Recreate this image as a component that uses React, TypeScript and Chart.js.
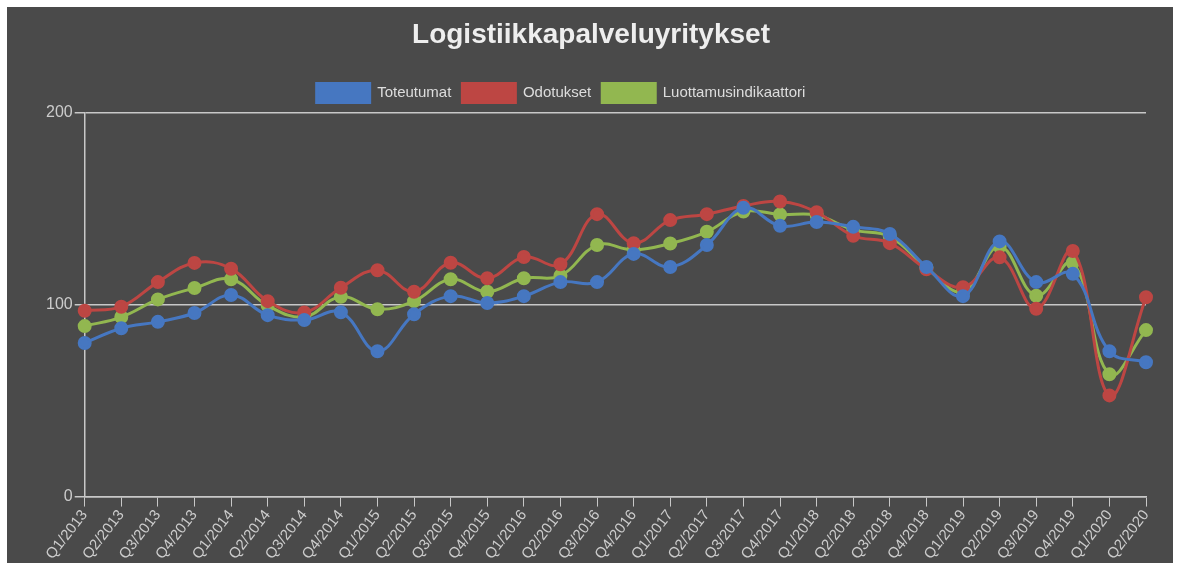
import React, { useEffect, useRef } from "react";
import { Chart, registerables } from "chart.js";

Chart.register(...registerables);

const categories = [
  "Q1/2013", "Q2/2013", "Q3/2013", "Q4/2013",
  "Q1/2014", "Q2/2014", "Q3/2014", "Q4/2014",
  "Q1/2015", "Q2/2015", "Q3/2015", "Q4/2015",
  "Q1/2016", "Q2/2016", "Q3/2016", "Q4/2016",
  "Q1/2017", "Q2/2017", "Q3/2017", "Q4/2017",
  "Q1/2018", "Q2/2018", "Q3/2018", "Q4/2018",
  "Q1/2019", "Q2/2019", "Q3/2019", "Q4/2019",
  "Q1/2020", "Q2/2020",
];

const toteutumat = [
  80, 87.7, 91, 95.6, 105, 94.5, 92, 96, 75.7, 95,
  104.4, 100.8, 104.4, 111.7, 111.7, 126.4, 119.6, 131, 150.4, 141,
  143, 140.5, 136.8, 119.6, 104.4, 132.9, 111.7, 116, 75.7, 70,
];

const odotukset = [
  96.8, 98.9, 111.7, 121.7, 118.7, 101.8, 95.9, 108.8, 117.9, 106.7,
  121.8, 113.7, 124.8, 121, 147.1, 132, 144, 147.1, 151.4, 153.7,
  148.1, 135.8, 132, 118.4, 109, 124.6, 97.8, 127.9, 52.7, 103.8,
];

const luottamus = [
  88.8, 93.5, 102.7, 108.6, 113.2, 99.5, 93.6, 104.1, 97.6, 101.8,
  113.2, 106.7, 113.7, 115, 131, 128.5, 131.8, 137.9, 148.5, 146.9,
  146.6, 138.9, 135.4, 119.2, 106.7, 130.2, 104.6, 121.8, 63.7, 86.7,
];

const yTicks = [0, 100, 200];

const seriesNames = ["Toteutumat", "Odotukset", "Luottamusindikaattori"];
const seriesColors = ["#4677c1", "#bd4643", "#92b750"];

const boxShift = {
  id: "boxShift",
  afterLayout(chart: any) {
    const lg = chart.legend;
    if (lg) {
      lg.left -= 34;
      lg.right -= 34;
    }
    const tt = chart.titleBlock;
    if (tt) {
      tt.left -= 4;
      tt.right -= 4;
    }
  },
};

export default function App() {
  const canvasRef = useRef<HTMLCanvasElement | null>(null);

  useEffect(() => {
    if (!canvasRef.current) return;
    const values = [toteutumat, odotukset, luottamus];
    const chart = new Chart(canvasRef.current, {
      type: "line",
      data: {
        labels: categories,
        datasets: values.map((v, i) => ({
          label: seriesNames[i],
          data: v,
          borderColor: seriesColors[i],
          backgroundColor: seriesColors[i],
          pointBackgroundColor: seriesColors[i],
          pointBorderColor: seriesColors[i],
          borderWidth: 3,
          pointRadius: 5.5,
          tension: 0.4,
          fill: false,
        })),
      },
      plugins: [boxShift],
      options: {
        animation: false,
        responsive: true,
        maintainAspectRatio: false,
        layout: { padding: { left: 37, right: 27, top: 0, bottom: 0 } },
        plugins: {
          title: {
            display: true,
            text: "Logistiikkapalveluyritykset",
            color: "#eeeeee",
            font: { family: "Liberation Sans, Arial, sans-serif", size: 28, weight: "bold" },
            padding: { top: 11, bottom: 21 },
          },
          legend: {
            display: true,
            labels: {
              color: "#dddddd",
              boxWidth: 53,
              boxHeight: 19,
              padding: 11,
              font: { family: "Liberation Sans, Arial, sans-serif", size: 15 },
            },
          },
          tooltip: { enabled: false },
        },
        scales: {
          x: {
            offset: false,
            grid: {
              display: true,
              drawOnChartArea: false,
              drawTicks: true,
              tickLength: 10,
              color: "#c8c8c8",
            },
            border: { display: true, color: "#c8c8c8", width: 1.5 },
            ticks: {
              color: "#cccccc",
              autoSkip: false,
              minRotation: 52,
              maxRotation: 52,
              padding: 0,
              font: { family: "Liberation Sans, Arial, sans-serif", size: 15 },
            },
          },
          y: {
            min: 0,
            max: 200,
            afterBuildTicks: (axis: any) => {
              axis.ticks = yTicks.map((v) => ({ value: v }));
            },
            grid: {
              display: true,
              drawOnChartArea: true,
              drawTicks: true,
              tickLength: 10,
              color: "#c8c8c8",
              lineWidth: 1.5,
            },
            border: { display: true, color: "#c8c8c8", width: 1.5 },
            ticks: {
              color: "#cccccc",
              padding: 2,
              font: { family: "Liberation Sans, Arial, sans-serif", size: 16 },
            },
          },
        },
      },
    });
    return () => chart.destroy();
  }, []);

  return (
    <div
      style={{
        position: "fixed",
        left: 7,
        top: 7,
        width: 1166,
        height: 556,
        background: "#4a4a4a",
      }}
    >
      <canvas ref={canvasRef} />
    </div>
  );
}
